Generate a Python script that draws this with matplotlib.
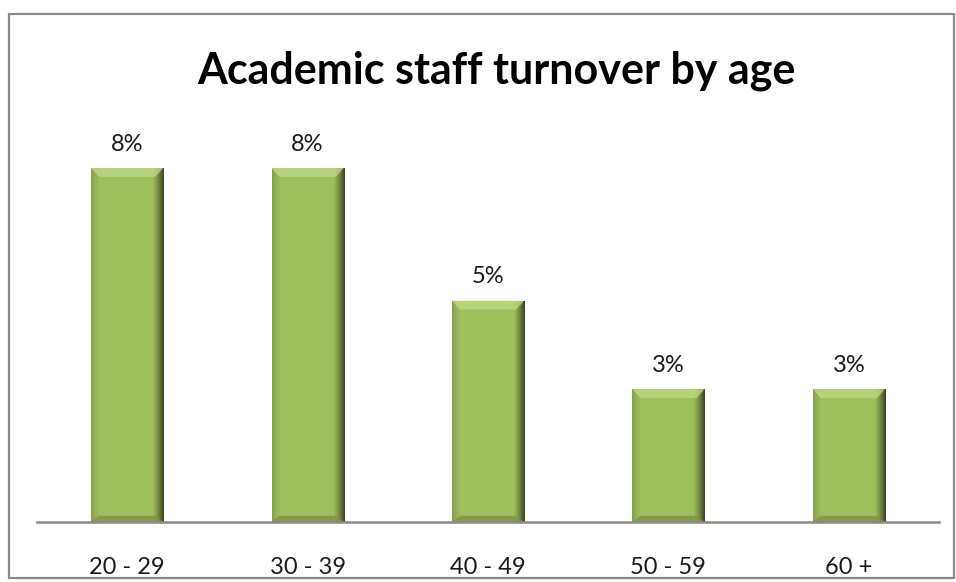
import numpy as np
import matplotlib
matplotlib.use('Agg')
import matplotlib.pyplot as plt
from matplotlib.patches import Rectangle, Polygon

plt.rcParams['font.family'] = ['Lato', 'DejaVu Sans']

age_groups = ['20 - 29', '30 - 39', '40 - 49', '50 - 59', '60 +']
turnover_pct = [8, 8, 5, 3, 3]
value_labels = ['8%', '8%', '5%', '3%', '3%']

fig = plt.figure(figsize=(9.56, 5.82), dpi=100)
fig.patch.set_facecolor('white')

# outer chart frame
frame = Rectangle((9 / 956, 4 / 582), 945 / 956, 564 / 582, transform=fig.transFigure,
                  fill=False, edgecolor='#8a8a8a', linewidth=1.6, zorder=0)
fig.add_artist(frame)

ax = fig.add_axes([37 / 956, 60 / 582, 902 / 956, 402 / 582])
ax.set_xlim(-0.5, len(age_groups) - 0.5)
ax.set_ylim(0, 8 * 402 / 354)

bars = ax.bar(range(len(age_groups)), turnover_pct, width=0.4, color='#a1c05e', linewidth=0, zorder=2)

# shaded bevel on each bar
grad = np.linspace(0, 1, 200)
shade = np.interp(grad, [0, 0.05, 0.12, 0.85, 0.93, 1.0], [0.82, 0.92, 1.0, 1.0, 0.7, 0.35])
base = np.array([0.63, 0.75, 0.37])
img = (shade[:, None] * base[None, :])[None, :, :]
img = np.clip(img, 0, 1)
for b in bars:
    x0, y0 = b.get_x(), b.get_y()
    w, h = b.get_width(), b.get_height()
    im = ax.imshow(img, extent=(x0, x0 + w, y0, y0 + h), aspect='auto', zorder=3, interpolation='bilinear')
    im.set_clip_path(b)
    bx = w * 0.11
    by = 0.2
    top = Polygon([(x0, y0 + h), (x0 + w, y0 + h), (x0 + w - bx, y0 + h - by), (x0 + bx, y0 + h - by)],
                  closed=True, facecolor='#c0d987', edgecolor='none', alpha=0.75, zorder=4)
    ax.add_patch(top)
    bot = Polygon([(x0, y0), (x0 + w, y0), (x0 + w - bx, y0 + by * 0.7), (x0 + bx, y0 + by * 0.7)],
                  closed=True, facecolor='#7c9640', edgecolor='none', alpha=0.8, zorder=4)
    ax.add_patch(bot)

for b, lab in zip(bars, value_labels):
    ax.text(b.get_x() + b.get_width() / 2, b.get_height() + 0.3, lab,
            ha='center', va='bottom', fontsize=17, color='#1a1a1a')

ax.set_xticks(range(len(age_groups)))
ax.set_xticklabels(age_groups, fontsize=17, color='#1a1a1a')
ax.tick_params(axis='x', length=0, pad=25)
ax.set_yticks([])
for s in ['top', 'right', 'left']:
    ax.spines[s].set_visible(False)
ax.spines['bottom'].set_color('#8a8a8a')
ax.spines['bottom'].set_linewidth(1.8)
ax.spines['bottom'].set_zorder(5)

fig.text(496 / 956, 1 - 71 / 582, 'Academic staff turnover by age', ha='center', va='center',
         fontsize=31, fontweight='bold', color='#000000')

fig.savefig('out.png', dpi=100)
